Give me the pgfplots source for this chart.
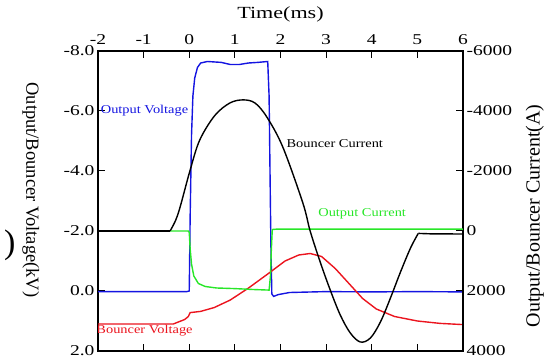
\documentclass[border=0pt]{standalone}
\usepackage{fontspec}
\setmainfont{Liberation Serif}
\newfontfamily\widefont{Liberation Serif}[FakeStretch=1.3]
\newfontfamily\midfont{Liberation Serif}[FakeStretch=1.2]
\usepackage{pgfplots}
\pgfplotsset{compat=1.18}
\definecolor{cblue}{RGB}{20,20,225}
\definecolor{cgreen}{RGB}{40,230,40}
\definecolor{cred}{RGB}{235,20,30}
\begin{document}
\begin{tikzpicture}[x=1pt,y=1pt]
\path[use as bounding box] (0,0) rectangle (551,363);
\node[anchor=east,font=\fontsize{34}{40}\selectfont] at (19,118) {)};
\begin{axis}[at={(98pt,12pt)}, anchor=south west, width=365pt, height=300pt, scale only axis,
  xmin=-2, xmax=6, ymin=-8, ymax=2, y dir=reverse,
  xtick={-2,...,6}, ytick={-8,-6,...,2},
  xticklabel pos=upper, ytick pos=left,
  tick align=inside, major tick length=7pt,
  yticklabel style={/pgf/number format/.cd,fixed,fixed zerofill,precision=1},
  xticklabel style={yshift=3pt},
  /pgf/number format/assume math mode=true,
  ticklabel style={font=\widefont\fontsize{15}{18}\selectfont},
  axis line style={line width=1.2pt},
  tick style={line width=1pt, black},
  xlabel={Time(ms)},
  xlabel style={at={(axis description cs:0.5,1.123)}, anchor=center, font=\widefont\fontsize{17}{20}\selectfont},
  ylabel={Output/Bouncer Voltage(kV)},
  ylabel style={at={(axis description cs:-0.184,0.537)}, anchor=center, rotate=180, font=\fontsize{18.5}{20}\selectfont},
]
\addplot[cblue, line width=1.4pt] coordinates {
(-2,0.02) (-1,0.02) (-0.05,0.02) (0.0,0.0) (0.02,-2.5) (0.05,-5.2) (0.08,-6.5) (0.12,-7.1) (0.18,-7.45) (0.25,-7.6) (0.4,-7.65) (0.7,-7.62) (0.9,-7.55) (1.1,-7.55) (1.3,-7.6) (1.5,-7.62) (1.72,-7.65) (1.75,-6.5) (1.77,-4) (1.79,-1.5) (1.81,0.1) (1.85,0.18) (1.95,0.12) (2.2,0.05) (3,0.02) (4,0.03) (5,0.02) (6,0.03)};
\addplot[cred, line width=1.4pt] coordinates {
(-2,1.1) (-1,1.1) (-0.35,1.1) (-0.1,0.95) (-0.02,0.85) (0.02,0.72) (0.25,0.68) (0.55,0.55) (0.9,0.3) (1.3,-0.1) (1.75,-0.6) (2.1,-1.0) (2.4,-1.2) (2.65,-1.25) (2.9,-1.15) (3.2,-0.75) (3.5,-0.25) (3.8,0.25) (4.1,0.6) (4.5,0.85) (5.0,1.0) (5.5,1.08) (6,1.12)};
\node[cblue, font=\midfont\fontsize{12}{14}\selectfont] at (axis cs:-0.98,-6.0) {Output Voltage};
\node[cred, font=\midfont\fontsize{12}{14}\selectfont] at (axis cs:-0.98,1.33) {Bouncer Voltage};
\node[black, font=\midfont\fontsize{12}{14}\selectfont] at (axis cs:3.19,-4.93) {Bouncer Current};
\node[cgreen, font=\midfont\fontsize{12}{14}\selectfont] at (axis cs:3.79,-2.57) {Output Current};
\end{axis}
\begin{axis}[at={(98pt,12pt)}, anchor=south west, width=365pt, height=300pt, scale only axis,
  xmin=-2, xmax=6, ymin=-6000, ymax=4000, y dir=reverse,
  axis x line=none, axis y line*=right,
  ytick={-6000,-4000,...,4000},
  tick align=inside, major tick length=7pt,
  /pgf/number format/1000 sep={},
  /pgf/number format/assume math mode=true,
  ticklabel style={font=\widefont\fontsize{15}{18}\selectfont},
  axis line style={line width=1.2pt, -},
  tick style={line width=1pt, black},
  ylabel={Output/Bouncer Current(A)},
  ylabel style={at={(axis description cs:1.197,0.45)}, anchor=center, rotate=0, font=\fontsize{20}{24}\selectfont},
]
\addplot[cgreen, line width=1.4pt] coordinates {
(-2,0) (-0.02,0) (0.0,50) (0.02,600) (0.05,1100) (0.1,1500) (0.2,1750) (0.35,1850) (0.6,1900) (1.0,1920) (1.4,1950) (1.75,1970) (1.78,1500) (1.8,600) (1.82,-50) (1.9,-60) (3,-60) (6,-60)};
\addplot[black, line width=1.4pt] coordinates {(-2,0) (-1,0) (-0.42,0)};
\addplot[black, line width=1.4pt, smooth, tension=0.55] coordinates {
(-0.42,0) (-0.3,-350) (-0.2,-800) (0.02,-2033) (0.23,-3033) (0.56,-3850) (0.89,-4267) (1.18,-4370) (1.44,-4267) (1.7,-3800) (2.05,-2800) (2.49,-933) (2.65,0) (2.87,1033) (3.09,1967) (3.31,2800) (3.53,3400) (3.75,3700) (3.97,3567) (4.19,3033) (4.41,2233) (4.63,1367) (4.85,567) (5.02,80)};
\addplot[black, line width=1.4pt] coordinates {(5.02,80) (5.3,95) (6,100)};
\end{axis}
\end{tikzpicture}
\end{document}
